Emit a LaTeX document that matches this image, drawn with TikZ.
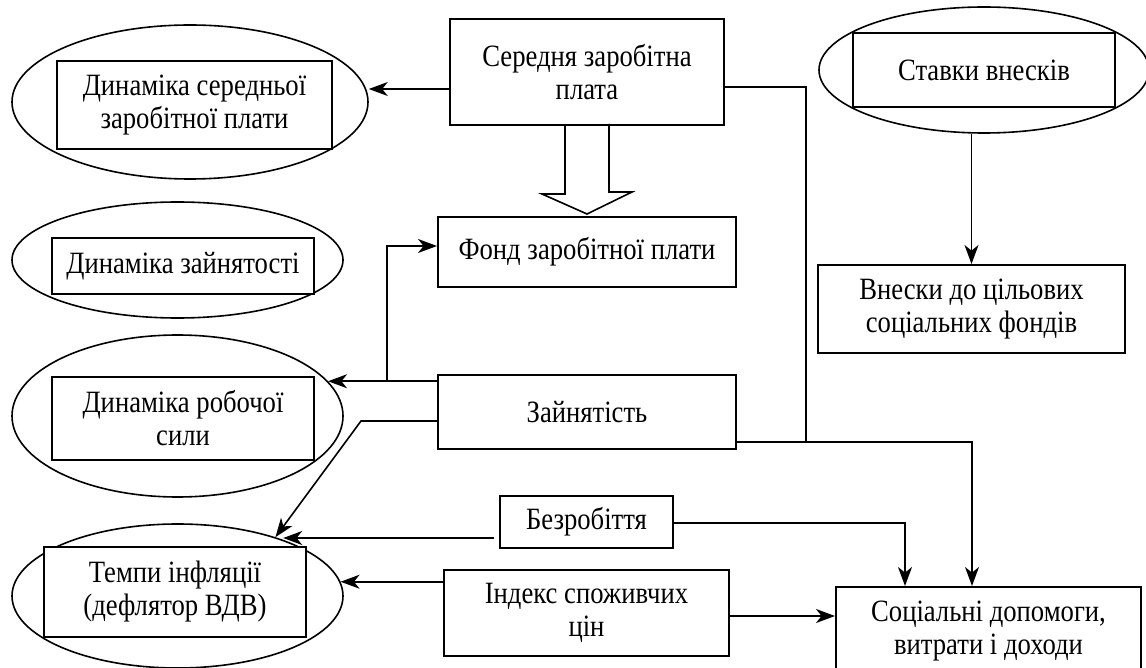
\documentclass[tikz,border=0pt]{standalone}
\usepackage{fontspec}
\setmainfont{Liberation Serif}[FakeStretch=0.86]
\usetikzlibrary{shapes,
                arrows.meta,
                calc}
\tikzset{block/.style =
   {rectangle,
    draw,
    fill=white,
    align=center,
    inner sep=0pt,
    line width=1pt}}
\tikzset{ring/.style =
   {ellipse,
    draw,
    inner sep=0pt,
    line width=0.8pt}}
\tikzset{line/.style = {draw, line width=0.8pt}}
\tikzset{arrow/.style = {draw, line width=0.8pt,
    -{Stealth[length=9.5pt,width=7pt,inset=2.8pt]}}}

\begin{document}
\begin{tikzpicture}[x=0.5pt, y=-0.5pt, font=\fontsize{15.5}{16.5}\selectfont]
    \useasboundingbox (0,0) rectangle (1146,668);

    % left column: dynamics in rings
    \node [ring, minimum width=178pt, minimum height=77pt] (wagedyn-ring) at (190,102) {};
    \node [block, minimum width=137.5pt, minimum height=44pt] (wagedyn) at (194.5,105)
    {Динаміка середньої\\заробітної плати};

    \node [ring, minimum width=165.5pt, minimum height=58pt] (empdyn-ring) at (177.5,260) {};
    \node [block, minimum width=131pt, minimum height=28pt] (empdyn) at (183,266)
    {Динаміка зайнятості};

    \node [ring, minimum width=165.5pt, minimum height=81pt] (labour-ring) at (177.5,416) {};
    \node [block, minimum width=131pt, minimum height=41.5pt] (labour) at (183,418.5)
    {Динаміка робочої\\сили};

    \node [ring, minimum width=165.5pt, minimum height=72pt] (infl-ring) at (177.5,596) {};
    \node [block, minimum width=131pt, minimum height=45pt] (infl) at (175,592)
    {Темпи інфляції\\(дефлятор ВДВ)};

    % middle column
    \node [block, minimum width=137pt, minimum height=53pt] (avgwage) at (587,72)
    {Середня заробітна\\плата};
    \node [block, minimum width=149pt, minimum height=35pt] (wagefund) at (587,252)
    {Фонд заробітної плати};
    \node [block, minimum width=149pt, minimum height=37pt] (employ) at (587,412)
    {Зайнятість};
    \node [block, minimum width=86.5pt, minimum height=26pt] (unemp) at (586.5,522)
    {Безробіття};
    \node [block, minimum width=142.5pt, minimum height=43pt] (cpi) at (586.5,613)
    {Індекс споживчих\\цін};

    % right column
    \node [ring, minimum width=165pt, minimum height=63pt] (rates-ring) at (984,70) {};
    \node [block, minimum width=131pt, minimum height=37pt] (rates) at (984,70)
    {Ставки внесків};
    \node [block, minimum width=153.5pt, minimum height=44pt] (contrib) at (971.5,309)
    {Внески до цільових\\соціальних фондів};
    \node [block, minimum width=152.5pt, minimum height=44pt] (social) at (988.5,631)
    {Соціальні допомоги,\\витрати і доходи};

    % connectors
    \coordinate (wage-out) at ($(avgwage.west)+(0,17)$);
    \draw [arrow] (wage-out) -- (wage-out -| wagedyn-ring.east);

    \draw [line] ($(avgwage.south)+(-22,0)$) -- ++(0,68) -- ++(-23,0)
        -- ($(wagefund.north)+(0,-2)$) -- ++(45,-22) -- ++(-23,0) -- ++(0,-68);

    \coordinate (join) at ($(employ.east)+(69,30)$);
    \draw [line] ($(avgwage.east)+(0,15)$) -| (join);
    \draw [arrow] ($(employ.east)+(0,30)$) -| ($(social.north)+(-16.5,0)$);

    \coordinate (lab-in) at (labour-ring.13);
    \coordinate (emp-out) at (employ.west |- lab-in);
    \coordinate (fork) at ($(emp-out)+(-50,0)$);
    \draw [arrow] (emp-out) -- (lab-in);
    \draw [arrow] (fork) |- ($(wagefund.west)+(0,-6)$);

    \draw [arrow] ($(employ.west)+(0,9)$) -- ++(-76,0) -- (infl-ring.31);

    \coordinate (unemp-out) at ($(unemp.west)+(-5,16)$);
    \draw [arrow] (unemp-out) -- (unemp-out -| infl-ring.28);
    \draw [arrow] ($(unemp.east)+(0,1)$) -| ($(social.north)+(-83.5,0)$);

    \draw [arrow] (cpi.west |- infl-ring.5) -- (infl-ring.5);
    \coordinate (soc-in) at ($(social.west)+(0,-15)$);
    \draw [arrow] (cpi.east |- soc-in) -- (soc-in);

    \draw [arrow] (rates-ring.south -| contrib.north) -- (contrib.north);

\end{tikzpicture}
\end{document}
